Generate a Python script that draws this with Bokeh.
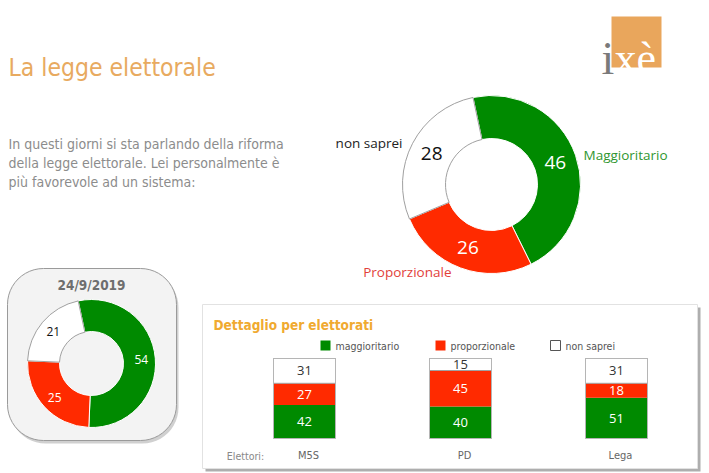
import math
from bokeh.plotting import figure
from bokeh.models import Range1d, ColumnDataSource
from bokeh.core.properties import value
from bokeh.embed import file_html
from bokeh.resources import INLINE

# ---------------- data ----------------
big_labels = ["Maggioritario", "Proporzionale", "non saprei"]
big_values = [46, 26, 28]
small_date = "24/9/2019"
small_values = [54, 25, 21]
parties = ["M5S", "PD", "Lega"]
maggioritario = [42, 40, 51]
proporzionale = [27, 45, 18]
non_saprei = [31, 15, 31]
legend_labels = ["maggioritario", "proporzionale", "non saprei"]
question = ["In questi giorni si sta parlando della riforma",
            "della legge elettorale. Lei personalmente è",
            "più favorevole ad un sistema:"]

GREEN = "#008a00"
RED = "#ff2a00"
WHITE = "#ffffff"
GREY_LINE = "#a0a0a0"
slice_colors = [GREEN, RED, WHITE]

W, H = 709, 473
NARROW = value("'DejaVu Sans Condensed', 'Liberation Sans Narrow', Roboto, sans-serif")
SANS = value("Open Sans")

def X(px):
    return px

def Y(py):
    return H - py

p = figure(width=W, height=H, x_range=Range1d(0, W), y_range=Range1d(0, H),
           output_backend="svg", toolbar_location=None, min_border=0)
p.axis.visible = False
p.grid.visible = False
p.outline_line_color = None
p.background_fill_color = "white"
p.border_fill_color = "white"

# ---------------- title and logo ----------------
p.text(x=[X(8)], y=[Y(67)], text=["La legge elettorale"], text_font=NARROW,
       text_font_size="24.5px", text_color="#e8aa60", text_baseline="alphabetic")
p.quad(left=[X(611)], right=[X(661)], bottom=[Y(67)], top=[Y(16)],
       fill_color="#e9a65c", line_color=None)
p.text(x=[X(601)], y=[Y(58)], text=["i"], text_font=value("Liberation Serif"),
       text_font_size="46px", text_color="#7a7a7a", text_baseline="alphabetic")
p.text(x=[X(614)], y=[Y(58)], text=["xè"], text_font=value("Liberation Serif"),
       text_font_size="44px", text_color="white", text_baseline="alphabetic")

# question
for i, line in enumerate(question):
    p.text(x=[X(8)], y=[Y(143 + 19 * i)], text=[line], text_font=NARROW,
           text_font_size="14px", text_color="#8c8c8c", text_baseline="alphabetic")

# ---------------- donut helper ----------------
def donut(cx, cy, R, r, values, start_deg, label_colors, font_size, label_r=None,
          style="normal"):
    total = float(sum(values))
    th = start_deg
    starts, ends, lx, ly = [], [], [], []
    for v in values:
        t0, t1 = th, th + 360.0 * v / total
        starts.append(math.radians(90 - t0))
        ends.append(math.radians(90 - t1))
        mid = math.radians((t0 + t1) / 2)
        rr = label_r if label_r else (R + r) / 2
        lx.append(cx + rr * math.sin(mid))
        ly.append(cy + rr * math.cos(mid))
        th = t1
    src = ColumnDataSource(dict(s=starts, e=ends, c=slice_colors,
                                lc=["white", "white", GREY_LINE]))
    p.annular_wedge(x=cx, y=cy, inner_radius=r, outer_radius=R, start_angle="s",
                    end_angle="e", direction="clock", fill_color="c",
                    line_color="lc", line_width=1, source=src)
    p.text(x=lx, y=ly, text=[str(v) for v in values], text_color=label_colors,
           text_font=SANS, text_font_size=font_size, text_align="center",
           text_baseline="middle", text_font_style=style)

# big donut
donut(X(491), Y(184), 89, 46, big_values, -12, ["white", "white", "#111111"], "19px")
p.text(x=[X(583)], y=[Y(154)], text=[big_labels[0]], text_font=SANS,
       text_font_size="13.5px", text_color="#2f962f", text_baseline="middle")
p.text(x=[X(451)], y=[Y(271)], text=[big_labels[1]], text_font=SANS,
       text_font_size="13.5px", text_color="#e2403a", text_baseline="middle",
       text_align="right")
p.text(x=[X(402)], y=[Y(142)], text=[big_labels[2]], text_font=SANS,
       text_font_size="13.5px", text_color="#222222", text_baseline="middle",
       text_align="right")

# ---------------- small panel (rounded) ----------------
def rounded(l, r, t, b, rad, n=12):
    xs, ys = [], []
    corners = [(r - rad, t - rad, 0, 90), (l + rad, t - rad, 90, 180),
               (l + rad, b + rad, 180, 270), (r - rad, b + rad, 270, 360)]
    for cx, cy, a0, a1 in corners:
        for k in range(n + 1):
            a = math.radians(a0 + (a1 - a0) * k / n)
            xs.append(cx + rad * math.cos(a))
            ys.append(cy + rad * math.sin(a))
    return xs, ys

sx, sy = rounded(X(7) + 2, X(176) + 2, Y(268) - 3, Y(440) - 3, 36)
p.patch(sx, sy, fill_color="#b0b0b0", fill_alpha=0.6, line_color=None)
bx, by = rounded(X(7), X(176), Y(268), Y(440), 36)
p.patch(bx, by, fill_color="#f3f3f3", line_color="#9a9a9a", line_width=1)
p.text(x=[X(91)], y=[Y(284)], text=[small_date], text_font=NARROW,
       text_font_style="bold", text_font_size="13.5px", text_color="#6e6e6e",
       text_align="center", text_baseline="middle")
donut(X(91), Y(363), 64, 32, small_values, -12, ["white", "white", "#111111"],
      "12px", label_r=50)

# ---------------- bar panel ----------------
p.quad(left=[X(205)], right=[X(700)], top=[Y(307)], bottom=[Y(471)],
       fill_color="#9a9a9a", fill_alpha=0.8, line_color=None)
p.quad(left=[X(202)], right=[X(697)], top=[Y(304)], bottom=[Y(468)],
       fill_color="white", line_color="#e2e2e2", line_width=1)
p.text(x=[X(213)], y=[Y(324)], text=["Dettaglio per elettorati"], text_font=NARROW,
       text_font_style="bold", text_font_size="13.5px", text_color="#f0aa30",
       text_baseline="middle")

# legend
leg_x = [320, 435, 550]
for lx0, lab, col in zip(leg_x, legend_labels, slice_colors):
    p.quad(left=[X(lx0)], right=[X(lx0 + 10)], top=[Y(340)], bottom=[Y(350)],
           fill_color=col, line_color=("#555555" if col == WHITE else None))
    p.text(x=[X(lx0 + 15)], y=[Y(345)], text=[lab], text_font=NARROW,
           text_font_size="10.5px", text_color="#555555", text_baseline="middle")

# percentage scale for the bars: 0 at page y 438, 100 at page y 358
px_per_pct = (438 - 358) / 100.0
p.extra_y_ranges = {"pct": Range1d(start=-Y(438) / px_per_pct,
                                   end=(H - Y(438)) / px_per_pct)}
bar_x = [X(304), X(460), X(616)]
m = maggioritario
pr = proporzionale
ns = non_saprei
b1 = [a + b for a, b in zip(m, pr)]
b2 = [a + b for a, b in zip(b1, ns)]
p.vbar(x=bar_x, width=62, bottom=0, top=m, fill_color=GREEN, line_color=None,
       y_range_name="pct")
p.vbar(x=bar_x, width=62, bottom=m, top=b1, fill_color=RED, line_color=None,
       y_range_name="pct")
p.vbar(x=bar_x, width=62, bottom=b1, top=b2, fill_color=WHITE, line_color=GREY_LINE,
       y_range_name="pct")
p.vbar(x=bar_x, width=62, bottom=0, top=b2, fill_color=None, line_color="#b5b5b5",
       y_range_name="pct")

def mids(lo, hi):
    return [(a + b) / 2 for a, b in zip(lo, hi)]

for lo, hi, vals, col in [([0, 0, 0], m, m, "white"), (m, b1, pr, "white"),
                          (b1, b2, ns, "#333333")]:
    p.text(x=bar_x, y=mids(lo, hi), text=[str(v) for v in vals], text_color=col,
           text_font=SANS, text_font_size="13px", text_align="center",
           text_baseline="middle", y_range_name="pct")

p.text(x=[X(245)], y=[Y(455)], text=["Elettori:"], text_font=NARROW,
       text_font_size="10.5px", text_color="#888888", text_align="center",
       text_baseline="middle")
p.text(x=[bx_ + 4 for bx_ in bar_x], y=[Y(455)] * 3, text=parties, text_font=NARROW,
       text_font_size="11px", text_color="#666666", text_align="center",
       text_baseline="middle")

open("out.html", "w").write(file_html(p, INLINE))
